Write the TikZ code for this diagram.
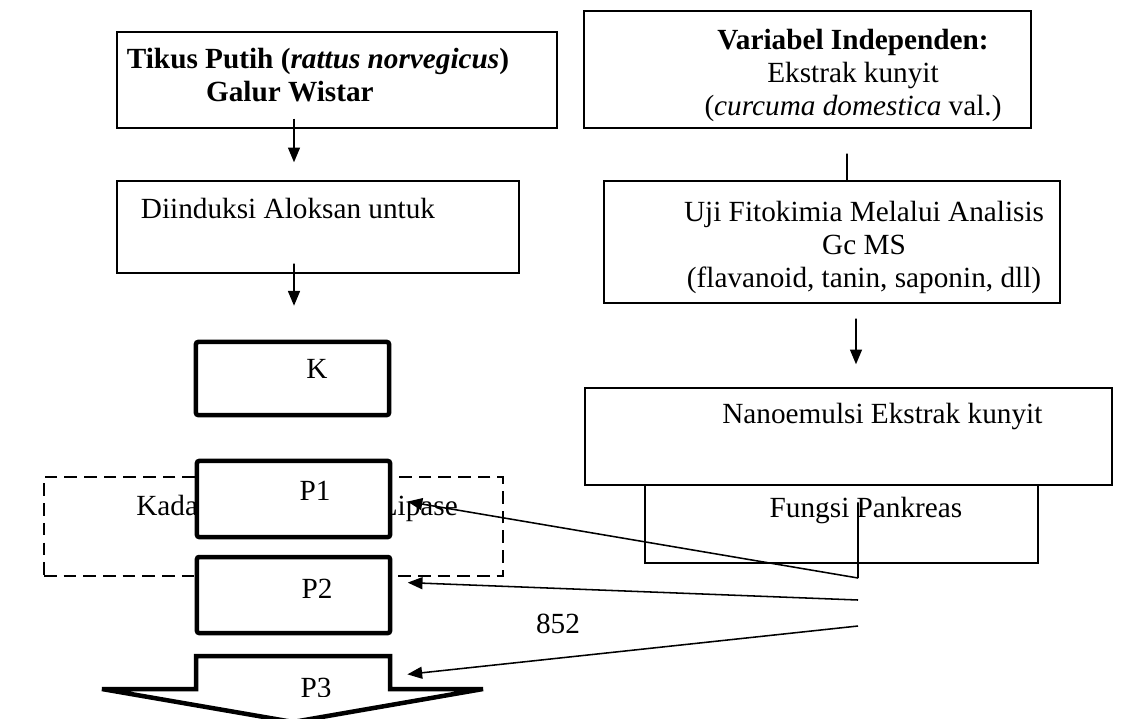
\documentclass[tikz,border=0pt]{standalone}
\usepackage{fontspec}
\setmainfont{Liberation Serif}
\usetikzlibrary{positioning, arrows.meta, calc}

\begin{document}
\begin{tikzpicture}[x=0.025cm, y=-0.025cm,
    every node/.style={font=\fontsize{20.8}{23.4}\selectfont, inner sep=0pt},
    box/.style={draw, line width=1pt, fill=white},
    thickbox/.style={draw, line width=3.2pt, fill=white, rounded corners=1.5pt},
    arr/.style={-{Triangle[length=10.5pt, width=8.5pt]}, line width=1.1pt},
    link/.style={line width=1.1pt}]
  \useasboundingbox (0,0) rectangle (1130,718);

  % left column
  \node[box, minimum width=11cm, minimum height=2.4cm] (tikus) at (337,80) {};
  \node[align=center, anchor=base] (tikus-txt) at (318,101) {\textbf{Tikus Putih (\textit{rattus norvegicus})}\\ \textbf{Galur Wistar}\hspace*{40pt}};
  \node[box, minimum width=10.05cm, minimum height=2.3cm] (induksi) at (318,227) {};
  \node[anchor=base] (induksi-txt) at (288,218) {Diinduksi Aloksan untuk};
  \draw[arr] ($(tikus.south)+(-43,-10)$) -- ($(induksi.north)+(-24,-18)$);

  \node[thickbox, minimum width=4.825cm, minimum height=1.825cm] (k) at (292.5,378.5) {};
  \node[anchor=base] (k-txt) at (317,378) {K};
  \draw[arr] ($(induksi.south)+(-24,-10)$) -- ($(k.north)+(1.5,-34)$);

  % kadar lipase (behind P1, P2)
  \node[draw, dashed, dash pattern=on 9pt off 5pt, line width=1pt, minimum width=11.475cm, minimum height=2.475cm] (lipase) at (273.5,526.5) {};
  \node[anchor=base west] (kada) at (136,515) {Kada};
  \node[anchor=base east] (lip) at (458,515) {Lipase};

  \node[thickbox, minimum width=4.825cm, minimum height=1.9cm] (p1) at (293.5,499) {};
  \node[anchor=base] (p1-txt) at (315,500) {P1};
  \node[thickbox, minimum width=4.825cm, minimum height=1.9cm] (p2) at (293.5,595) {};
  \node[anchor=base] (p2-txt) at (317,598) {P2};

  % P3 block arrow
  \draw[line width=3.2pt, fill=white] (196,656) -- (390,656) -- (390,689) -- (483,689)
    -- (293,722) -- (102,689) -- (196,689) -- cycle;
  \begin{scope}
    \clip (150,600) rectangle (450,696);
    \node[anchor=base] (p3) at (316,697) {P3};
  \end{scope}
  \coordinate (p3e) at (392,676);

  % right column
  \node[box, minimum width=11.175cm, minimum height=2.925cm] (var) at (807.5,69.5) {};
  \node[align=center, anchor=base] (var-txt) at (853,115) {\textbf{Variabel Independen:}\\ Ekstrak kunyit\\ (\textit{curcuma domestica} val.)};
  \node[box, minimum width=11.4cm, minimum height=3.05cm] (uji) at (832,242) {};
  \node[align=center, anchor=base] (uji-txt) at (864,287) {Uji Fitokimia Melalui Analisis\\ Gc MS\hspace*{38pt}\\ (flavanoid, tanin, saponin, dll)};
  \draw[link] ($(var.south)+(39.5,25)$) -- ($(uji.north)+(15,0)$);

  \node[box, minimum width=9.825cm, minimum height=1.95cm] (fungsi) at (841.5,524) {};
  \node[anchor=base] (fungsi-txt) at (866,517) {Fungsi Pankreas};
  \node[box, minimum width=13.175cm, minimum height=2.425cm] (nano) at (848.5,436.5) {};
  \node[anchor=base west] (nano-txt) at (722,423) {Nanoemulsi Ekstrak kunyit};
  \draw[arr] ($(uji.south)+(24,15)$) -- ($(nano.north)+(7.5,-23)$);

  % links to the groups
  \coordinate (src1) at (858,578);
  \coordinate (src2) at (858,600);
  \coordinate (src3) at (858,626);
  \draw[link] ($(fungsi.north)+(16.5,18)$) -- (src1);
  \draw[arr, shorten >=11pt] (src1) -- (p1.east);
  \draw[arr, shorten >=11pt] (src2) -- ([yshift=0.325cm]p2.east);
  \draw[arr, shorten >=11pt] (src3) -- (p3e);
  \node (num) at (558,624) {852};
\end{tikzpicture}
\end{document}
